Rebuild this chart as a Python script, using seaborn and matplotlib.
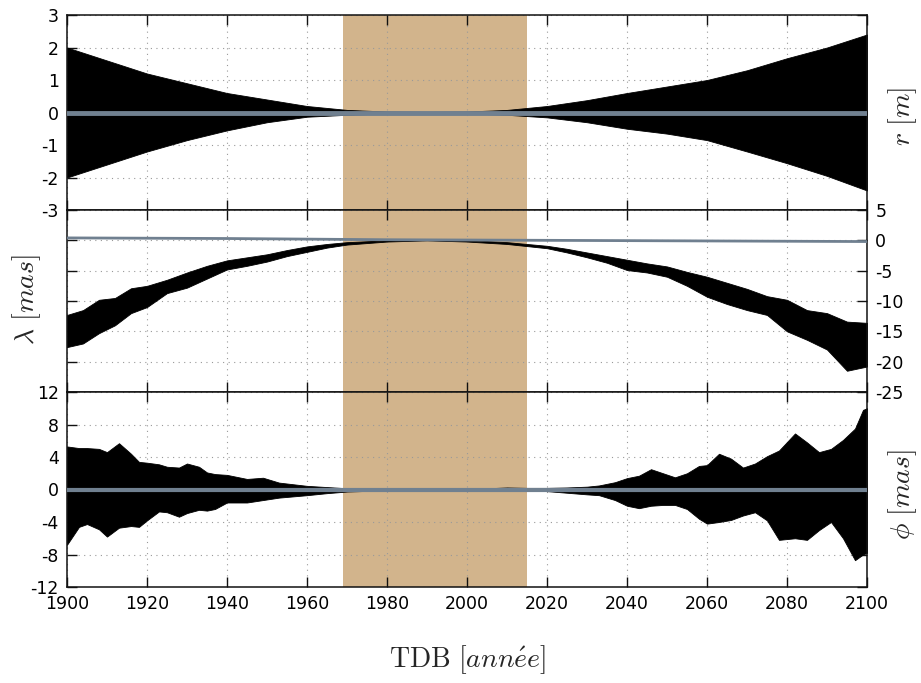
import matplotlib
matplotlib.use("Agg")
import matplotlib.pyplot as plt
import seaborn as sns

sns.set_theme(style="white")
plt.rcParams["font.family"] = ["DejaVu Sans"]
plt.rcParams["mathtext.fontset"] = "cm"
plt.rcParams["axes.unicode_minus"] = False

# ---- data ----
band_start, band_end = 1969, 2015

# r [m] : envelope of the black oscillation
r_years = [1900, 1910, 1920, 1930, 1940, 1950, 1960, 1970, 1980, 1990, 2000,
           2010, 2020, 2030, 2040, 2050, 2060, 2070, 2080, 2090, 2100]
r_upper = [2.0, 1.6, 1.2, 0.9, 0.6, 0.4, 0.2, 0.08, 0.03, 0.02, 0.03,
           0.08, 0.2, 0.38, 0.6, 0.8, 1.0, 1.3, 1.67, 2.0, 2.4]
r_lower = [-2.0, -1.6, -1.2, -0.85, -0.55, -0.3, -0.13, -0.07, -0.03, -0.02, -0.03,
           -0.07, -0.15, -0.3, -0.5, -0.65, -0.85, -1.2, -1.56, -1.95, -2.4]
r_gray = [0.0] * len(r_years)

# lambda [mas]
lam_years = [1900, 1904, 1908, 1912, 1916, 1920, 1925, 1930, 1935, 1940, 1945, 1950,
             1955, 1960, 1965, 1970, 1980, 1990, 2000, 2010, 2020, 2025, 2030, 2035,
             2040, 2045, 2050, 2055, 2060, 2065, 2070, 2075, 2080, 2085, 2090, 2095, 2100]
lam_upper = [-12.3, -11.5, -9.8, -9.5, -7.9, -7.5, -6.5, -5.3, -4.2, -3.3, -2.8, -2.3,
             -1.6, -1.0, -0.6, -0.3, 0.0, 0.2, 0.05, -0.3, -0.9, -1.4, -2.0, -2.6,
             -3.2, -3.8, -4.3, -5.2, -6.0, -7.0, -8.0, -9.2, -9.8, -11.5, -12.0, -13.4, -13.6]
lam_lower = [-17.6, -17.0, -15.3, -14.0, -12.0, -11.0, -8.7, -7.8, -6.3, -4.8, -4.2, -3.5,
             -2.6, -1.9, -1.2, -0.7, -0.2, 0.0, -0.2, -0.6, -1.3, -2.0, -2.8, -3.7,
             -4.9, -5.3, -6.0, -7.5, -9.3, -10.5, -11.5, -12.3, -15.0, -16.4, -18.0, -21.5, -20.8]
lam_gray_years = [1900, 1940, 1980, 2020, 2060, 2100]
lam_gray = [0.4, 0.3, 0.1, 0.0, -0.1, -0.2]

# phi [mas]
phi_years = [1900, 1903, 1905, 1908, 1910, 1913, 1916, 1918, 1920, 1923, 1925, 1928,
             1930, 1933, 1935, 1937, 1940, 1945, 1949, 1953, 1960, 1965, 1970, 1980,
             1990, 2000, 2010, 2015, 2020, 2025, 2030, 2033, 2037, 2040, 2043, 2046,
             2049, 2052, 2055, 2058, 2060, 2063, 2066, 2069, 2072, 2075, 2078, 2082,
             2085, 2088, 2091, 2094, 2097, 2099, 2100]
phi_upper = [5.3, 5.1, 5.1, 5.0, 4.6, 5.7, 4.4, 3.4, 3.3, 3.1, 2.8, 2.7,
             3.2, 2.8, 2.1, 1.9, 1.8, 1.3, 1.45, 0.85, 0.45, 0.3, 0.15, 0.05,
             0.05, 0.05, 0.25, 0.2, 0.2, 0.25, 0.35, 0.5, 0.9, 1.4, 1.7, 2.5,
             2.0, 1.5, 2.0, 2.9, 3.0, 4.4, 3.8, 2.7, 3.2, 4.1, 4.8, 6.9,
             5.8, 4.6, 5.0, 6.1, 7.5, 9.8, 10.0]
phi_lower = [-6.8, -4.6, -4.25, -4.9, -5.8, -4.7, -4.5, -4.6, -3.8, -2.7, -2.8, -3.35,
             -2.9, -2.5, -2.6, -2.4, -1.6, -1.6, -1.3, -1.0, -0.7, -0.45, -0.25, -0.1,
             -0.05, -0.05, -0.05, -0.1, -0.2, -0.4, -0.6, -0.7, -1.3, -2.0, -2.3, -2.0,
             -1.9, -1.9, -2.4, -3.6, -4.2, -4.0, -3.75, -3.2, -2.8, -3.8, -6.2, -6.0,
             -6.2, -5.0, -4.0, -6.0, -8.7, -8.0, -7.8]
phi_gray = [0.0] * len(phi_years)

year_ticks = [1900, 1920, 1940, 1960, 1980, 2000, 2020, 2040, 2060, 2080, 2100]
r_ticks = [-3, -2, -1, 0, 1, 2, 3]
lam_ticks = [-25, -20, -15, -10, -5, 0, 5]
phi_ticks = [-12, -8, -4, 0, 4, 8, 12]

# ---- figure ----
W, H = 921, 683
fig = plt.figure(figsize=(W / 100, H / 100), dpi=100)
left, width = 67 / W, 800 / W
ax_r = fig.add_axes([left, 1 - 210 / H, width, 195 / H])
ax_l = fig.add_axes([left, 1 - 392 / H, width, 182 / H])
ax_p = fig.add_axes([left, 1 - 587 / H, width, 195 / H])

TAN = "#D2B48C"
GRAY = "#708090"

panels = [
    (ax_r, r_years, r_upper, r_lower, r_years, r_gray, r_ticks, 3.5),
    (ax_l, lam_years, lam_upper, lam_lower, lam_gray_years, lam_gray, lam_ticks, 2.0),
    (ax_p, phi_years, phi_upper, phi_lower, phi_years, phi_gray, phi_ticks, 3.0),
]
for ax, yrs, up, lo, gyrs, gval, ticks, glw in panels:
    ax.axvspan(band_start, band_end, color=TAN, lw=0, zorder=0)
    ax.fill_between(yrs, lo, up, color="black", lw=0.6, edgecolor="black", zorder=2)
    sns.lineplot(x=gyrs, y=gval, ax=ax, color=GRAY, linewidth=glw, zorder=3)
    ax.set_xlim(1900, 2100)
    ax.set_ylim(ticks[0], ticks[-1])
    ax.set_xticks(year_ticks)
    ax.set_yticks(ticks)
    ax.set_axisbelow(True)
    ax.grid(True, linestyle=(0, (1, 4)), color="#999999", linewidth=0.8)
    ax.tick_params(direction="in", length=7, width=1, color="#111111",
                   top=True, bottom=True, left=True, right=True,
                   labelsize=12.5, labelcolor="black", pad=6)
    ax.tick_params(axis="x", labelbottom=False)
    for s in ax.spines.values():
        s.set_color("#111111")
        s.set_linewidth(1.1)
    ax.set_xlabel("")
    ax.set_ylabel("")

ax_l.tick_params(axis="y", labelleft=False, labelright=True)
ax_p.tick_params(axis="x", labelbottom=True)

fig.text(903 / W, 1 - 116 / H, r"$r\ [m]$", rotation=90, ha="center", va="center", fontsize=20)
fig.text(27 / W, 1 - 300 / H, r"$\lambda\ [mas]$", rotation=90, ha="center", va="center", fontsize=20)
fig.text(903 / W, 1 - 495 / H, r"$\phi\ [mas]$", rotation=90, ha="center", va="center", fontsize=20)
fig.text(467 / W, 1 - 660 / H, r"$\mathrm{TDB}\ [ann\acute{e}e]$", ha="center", va="center", fontsize=20)

fig.savefig("out.png", dpi=100)
